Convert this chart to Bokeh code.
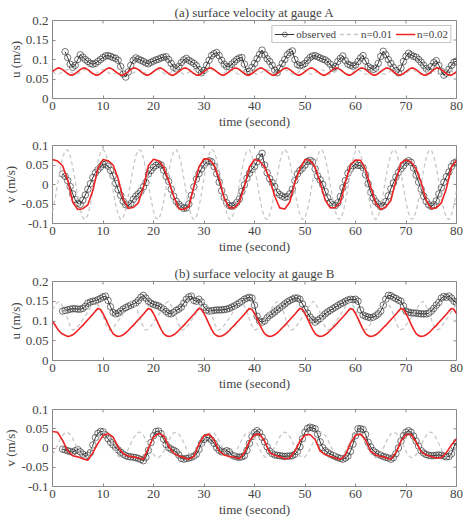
import numpy as np
from bokeh.plotting import figure
from bokeh.layouts import column
from bokeh.models import (Range1d, FixedTicker, Legend, LegendItem,
                          PrintfTickFormatter)
from bokeh.embed import file_html
from bokeh.resources import INLINE

FONT = "Liberation Serif"
TXT = "#444444"
FRAME = "#8a8a8a"
RED = "#ee2222"
GREY = "#c8c8c8"

# ---------------- tick labels / ranges ----------------
X_TICKS = [0, 10, 20, 30, 40, 50, 60, 70, 80]
U_TICKS = [0, 0.05, 0.1, 0.15, 0.2]
V_TICKS = [-0.1, -0.05, 0, 0.05, 0.1]

TITLE_A = "(a) surface velocity at gauge A"
TITLE_B = "(b) surface velocity at gauge B"
XLABEL = "time (second)"
SERIES = ["observed", "n=0.01", "n=0.02"]

# ---------------- data: panel 1, u at gauge A ----------------
A_U_OBS_T0 = 2.5
A_U_OBS = [
    0.120, 0.105, 0.088, 0.080, 0.085, 0.100, 0.112, 0.106, 0.100, 0.095,
    0.090, 0.088, 0.090, 0.095, 0.100, 0.105, 0.109, 0.110, 0.108, 0.105,
    0.103, 0.098, 0.082, 0.063, 0.055, 0.068, 0.085, 0.098, 0.104, 0.101,
    0.098, 0.095, 0.091, 0.089, 0.093, 0.096, 0.099, 0.101, 0.104, 0.106,
    0.107, 0.100, 0.090, 0.080, 0.076, 0.082, 0.092, 0.099, 0.103, 0.098,
    0.094, 0.090, 0.084, 0.074, 0.066, 0.072, 0.085, 0.098, 0.110, 0.115,
    0.118, 0.110, 0.098, 0.088, 0.082, 0.081, 0.088, 0.094, 0.100, 0.104,
    0.105, 0.088, 0.068, 0.070, 0.080, 0.090, 0.102, 0.113, 0.124, 0.112,
    0.102, 0.095, 0.085, 0.073, 0.066, 0.078, 0.090, 0.100, 0.112, 0.118,
    0.122, 0.100, 0.087, 0.084, 0.086, 0.090, 0.098, 0.105, 0.109, 0.110,
    0.107, 0.104, 0.101, 0.099, 0.094, 0.088, 0.078, 0.082, 0.095, 0.103,
    0.109, 0.097, 0.088, 0.085, 0.083, 0.086, 0.095, 0.104, 0.110, 0.096,
    0.082, 0.078, 0.074, 0.078, 0.090, 0.108, 0.121, 0.112, 0.100, 0.090,
    0.080, 0.072, 0.066, 0.078, 0.095, 0.108, 0.116, 0.112, 0.108, 0.106,
    0.100, 0.093, 0.085, 0.077, 0.071, 0.082, 0.092, 0.097, 0.085, 0.070,
    0.060, 0.065, 0.075, 0.085, 0.093, 0.096,
]
A_U_N01_T0 = 0.0
A_U_N01 = [
    0.069, 0.064, 0.062, 0.064, 0.069, 0.073, 0.074, 0.070, 0.065, 0.062,
    0.063, 0.068, 0.073, 0.074, 0.071, 0.066, 0.062, 0.063, 0.067, 0.072,
    0.074, 0.072, 0.067, 0.063, 0.062, 0.066, 0.071, 0.074, 0.073, 0.068,
    0.063, 0.062, 0.065, 0.070, 0.074, 0.073,
    0.069, 0.064, 0.062, 0.064, 0.069, 0.073, 0.074, 0.070, 0.065, 0.062,
    0.063, 0.068, 0.073, 0.074, 0.071, 0.066, 0.062, 0.063, 0.067, 0.072,
    0.074, 0.072, 0.067, 0.063, 0.062, 0.066, 0.071, 0.074, 0.073, 0.068,
    0.063, 0.062, 0.065, 0.070, 0.074, 0.073,
    0.069, 0.064, 0.062, 0.064, 0.069, 0.073, 0.074, 0.070, 0.065, 0.062,
    0.063, 0.068, 0.073, 0.074, 0.071, 0.066, 0.062, 0.063, 0.067, 0.072,
    0.074, 0.072, 0.067, 0.063, 0.062, 0.066, 0.071, 0.074, 0.073, 0.068,
    0.063, 0.062, 0.065, 0.070, 0.074, 0.073,
    0.069, 0.064, 0.062, 0.064, 0.069, 0.073, 0.074, 0.070, 0.065, 0.062,
    0.063, 0.068, 0.073, 0.074, 0.071, 0.066, 0.062, 0.063, 0.067, 0.072,
    0.074, 0.072, 0.067, 0.063, 0.062, 0.066, 0.071, 0.074, 0.073, 0.068,
    0.063, 0.062, 0.065, 0.070, 0.074, 0.073,
    0.069, 0.064, 0.062, 0.064, 0.069, 0.073, 0.074, 0.070, 0.065, 0.062,
    0.063, 0.068, 0.073, 0.074, 0.071, 0.066, 0.062,
]
A_U_N02_T0 = 0.0
A_U_N02 = [
    0.069, 0.074, 0.078, 0.078, 0.074, 0.069, 0.064, 0.060, 0.060, 0.064,
    0.069, 0.074, 0.078, 0.078, 0.074, 0.069, 0.064, 0.060, 0.060, 0.064,
    0.069, 0.074, 0.078, 0.078, 0.074, 0.069, 0.064, 0.060, 0.060, 0.064,
    0.069, 0.074, 0.078, 0.078, 0.074, 0.069, 0.064, 0.060, 0.060, 0.064,
    0.069, 0.074, 0.078, 0.078, 0.074, 0.069, 0.064, 0.060, 0.060, 0.064,
    0.069, 0.074, 0.078, 0.078, 0.074, 0.069, 0.064, 0.060, 0.060, 0.064,
    0.069, 0.074, 0.078, 0.078, 0.074, 0.069, 0.064, 0.060, 0.060, 0.064,
    0.069, 0.074, 0.078, 0.078, 0.074, 0.069, 0.064, 0.060, 0.060, 0.064,
    0.069, 0.074, 0.078, 0.078, 0.074, 0.069, 0.064, 0.060, 0.060, 0.064,
    0.069, 0.074, 0.078, 0.078, 0.074, 0.069, 0.064, 0.060, 0.060, 0.064,
    0.069, 0.074, 0.078, 0.078, 0.074, 0.069, 0.064, 0.060, 0.060, 0.064,
    0.069, 0.074, 0.078, 0.078, 0.074, 0.069, 0.064, 0.060, 0.060, 0.064,
    0.069, 0.074, 0.078, 0.078, 0.074, 0.069, 0.064, 0.060, 0.060, 0.064,
    0.069, 0.074, 0.078, 0.078, 0.074, 0.069, 0.064, 0.060, 0.060, 0.064,
    0.069, 0.074, 0.078, 0.078, 0.074, 0.069, 0.064, 0.060, 0.060, 0.064,
    0.069, 0.074, 0.078, 0.078, 0.074, 0.069, 0.064, 0.060, 0.060, 0.064,
    0.069,
]

# ---------------- data: panel 2, v at gauge A ----------------
A_V_OBS_T0 = 2.0
A_V_OBS = [
    0.027, 0.021, 0.010, -0.005, -0.024, -0.039, -0.048, -0.051, -0.040, -0.027,
    -0.012, 0.002, 0.018, 0.030, 0.038, 0.045, 0.052, 0.052, 0.047, 0.036,
    0.022, 0.003, -0.013, -0.028, -0.043, -0.052, -0.054, -0.049, -0.038, -0.030,
    -0.024, -0.017, -0.006, 0.005, 0.027, 0.036, 0.044, 0.049, 0.053, 0.050,
    0.037, 0.021, 0.008, -0.012, -0.030, -0.043, -0.051, -0.057, -0.061, -0.060,
    -0.050, -0.028, -0.006, 0.014, 0.028, 0.040, 0.050, 0.057, 0.061, 0.058,
    0.046, 0.028, 0.006, -0.016, -0.033, -0.047, -0.054, -0.056, -0.053, -0.046,
    -0.037, -0.018, -0.001, 0.016, 0.029, 0.039, 0.046, 0.058, 0.070, 0.080,
    0.050, 0.030, 0.015, 0.005, -0.005, -0.020, -0.026, -0.030, -0.033, -0.031,
    -0.024, -0.012, 0.010, 0.027, 0.036, 0.042, 0.050, 0.059, 0.062, 0.058,
    0.040, 0.022, 0.012, 0.000, -0.018, -0.034, -0.046, -0.052, -0.054, -0.047,
    -0.031, -0.008, 0.010, 0.029, 0.040, 0.048, 0.052, 0.049, 0.049, 0.043,
    0.025, 0.002, -0.020, -0.034, -0.044, -0.050, -0.057, -0.054, -0.044, -0.029,
    -0.011, 0.004, 0.019, 0.031, 0.040, 0.048, 0.057, 0.061, 0.057, 0.042,
    0.024, 0.006, -0.012, -0.030, -0.043, -0.052, -0.056, -0.052, -0.042, -0.024,
    -0.008, 0.006, 0.020, 0.032, 0.046, 0.055, 0.058,
]
A_V_N01_T0 = 0.0
A_V_N01 = [
    -0.069, -0.038, 0.000, 0.038, 0.069, 0.087, 0.089, 0.074, 0.045, 0.008,
    -0.031, -0.064, -0.085, -0.090, -0.078, -0.052, -0.016, 0.023, 0.058, 0.082,
    0.090, 0.082, 0.058, 0.023, -0.016, -0.052, -0.078, -0.090, -0.085, -0.064,
    -0.031, 0.008, 0.045, 0.074, 0.089, 0.087, 0.069, 0.038, 0.000, -0.038,
    -0.069, -0.087, -0.089, -0.074, -0.045, -0.008, 0.031, 0.064, 0.085, 0.090,
    0.078, 0.052, 0.016, -0.023, -0.058, -0.082, -0.090, -0.082, -0.058, -0.023,
    0.016, 0.052, 0.078, 0.090, 0.085, 0.064, 0.031, -0.008, -0.045, -0.074,
    -0.089, -0.087,
    -0.069, -0.038, 0.000, 0.038, 0.069, 0.087, 0.089, 0.074, 0.045, 0.008,
    -0.031, -0.064, -0.085, -0.090, -0.078, -0.052, -0.016, 0.023, 0.058, 0.082,
    0.090, 0.082, 0.058, 0.023, -0.016, -0.052, -0.078, -0.090, -0.085, -0.064,
    -0.031, 0.008, 0.045, 0.074, 0.089, 0.087, 0.069, 0.038, 0.000, -0.038,
    -0.069, -0.087, -0.089, -0.074, -0.045, -0.008, 0.031, 0.064, 0.085, 0.090,
    0.078, 0.052, 0.016, -0.023, -0.058, -0.082, -0.090, -0.082, -0.058, -0.023,
    0.016, 0.052, 0.078, 0.090, 0.085, 0.064, 0.031, -0.008, -0.045, -0.074,
    -0.089, -0.087,
    -0.069, -0.038, 0.000, 0.038, 0.069, 0.087, 0.089, 0.074, 0.045, 0.008,
    -0.031, -0.064, -0.085, -0.090, -0.078, -0.052, -0.016,
]
A_V_N02_T0 = 0.0
A_V_N02 = [
    0.064, 0.060, 0.048, 0.012, -0.045, -0.064, -0.062, -0.052, -0.015, 0.042,
    0.064, 0.061, 0.050, 0.015, -0.037, -0.061, -0.059, -0.047, -0.007, 0.049,
    0.065, 0.061, 0.045, 0.010, -0.030, -0.062, -0.064, -0.057, -0.005, 0.045,
    0.066, 0.065, 0.050, 0.015, -0.035, -0.060, -0.060, -0.046, -0.005, 0.045,
    0.064, 0.060, 0.045, 0.015, -0.030, -0.060, -0.063, -0.045, 0.005, 0.040,
    0.064, 0.062, 0.044, 0.005, -0.040, -0.060, -0.059, -0.046, 0.005, 0.050,
    0.063, 0.062, 0.038, -0.005, -0.048, -0.064, -0.058, -0.041, 0.010, 0.055,
    0.063, 0.058, 0.040, 0.005, -0.040, -0.062, -0.060, -0.047, -0.010, 0.045,
    0.062,
]

# ---------------- data: panel 3, u at gauge B ----------------
B_U_OBS_T0 = 2.0
B_U_OBS = [
    0.125, 0.127, 0.128, 0.130, 0.131, 0.131, 0.130, 0.130, 0.132, 0.137,
    0.145, 0.148, 0.150, 0.151, 0.154, 0.157, 0.161, 0.163, 0.152, 0.136,
    0.122, 0.118, 0.120, 0.125, 0.130, 0.134, 0.137, 0.140, 0.143, 0.146,
    0.152, 0.160, 0.165, 0.158, 0.150, 0.145, 0.142, 0.140, 0.138, 0.134,
    0.130, 0.124, 0.119, 0.118, 0.122, 0.127, 0.130, 0.135, 0.145, 0.155,
    0.161, 0.163, 0.152, 0.150, 0.155, 0.148, 0.135, 0.128, 0.125, 0.126,
    0.127, 0.128, 0.128, 0.128, 0.129, 0.130, 0.132, 0.135, 0.138, 0.142,
    0.146, 0.150, 0.155, 0.158, 0.160, 0.158, 0.140, 0.112, 0.100, 0.097,
    0.100, 0.108, 0.114, 0.118, 0.123, 0.128, 0.133, 0.138, 0.143, 0.148,
    0.152, 0.155, 0.158, 0.158, 0.155, 0.143, 0.130, 0.120, 0.110, 0.103,
    0.097, 0.102, 0.106, 0.112, 0.118, 0.123, 0.127, 0.131, 0.135, 0.139,
    0.143, 0.146, 0.150, 0.153, 0.155, 0.154, 0.155, 0.150, 0.128, 0.115,
    0.112, 0.110, 0.108, 0.110, 0.113, 0.118, 0.125, 0.140, 0.155, 0.165,
    0.164, 0.160, 0.157, 0.153, 0.150, 0.138, 0.125, 0.122, 0.121, 0.120,
    0.120, 0.119, 0.118, 0.118, 0.118, 0.120, 0.125, 0.132, 0.140, 0.147,
    0.158, 0.162, 0.160, 0.163, 0.158, 0.150, 0.146,
]
B_U_N01_T = [
    0.0, 0.8,
    1.4, 2.4, 3.4, 4.0, 4.7, 6.6, 8.0,
    8.6, 9.6, 10.6, 11.2, 11.9, 13.8, 15.2,
    15.8, 16.8, 17.8, 18.4, 19.1, 21.0, 22.4,
    23.0, 24.0, 25.0, 25.6, 26.3, 28.2, 29.6,
    30.2, 31.2, 32.2, 32.8, 33.5, 35.4, 36.8,
    37.4, 38.4, 39.4, 40.0, 40.7, 42.6, 44.0,
    44.6, 45.6, 46.6, 47.2, 47.9, 49.8, 51.2,
    51.8, 52.8, 53.8, 54.4, 55.1, 57.0, 58.4,
    59.0, 60.0, 61.0, 61.6, 62.3, 64.2, 65.6,
    66.2, 67.2, 68.2, 68.8, 69.5, 71.4, 72.8,
    73.4, 74.4, 75.4, 76.0, 76.7, 78.6, 80.0,
]
B_U_N01 = [
    0.128, 0.145,
    0.150, 0.128, 0.090, 0.077, 0.080, 0.115, 0.145,
    0.150, 0.128, 0.090, 0.077, 0.080, 0.115, 0.145,
    0.150, 0.128, 0.090, 0.077, 0.080, 0.115, 0.145,
    0.150, 0.128, 0.090, 0.077, 0.080, 0.115, 0.145,
    0.150, 0.128, 0.090, 0.077, 0.080, 0.115, 0.145,
    0.150, 0.128, 0.090, 0.077, 0.080, 0.115, 0.145,
    0.150, 0.128, 0.090, 0.077, 0.080, 0.115, 0.145,
    0.150, 0.128, 0.090, 0.077, 0.080, 0.115, 0.145,
    0.150, 0.128, 0.090, 0.077, 0.080, 0.115, 0.145,
    0.150, 0.128, 0.090, 0.077, 0.080, 0.115, 0.145,
    0.150, 0.128, 0.090, 0.077, 0.080, 0.115, 0.145,
]
B_U_N02_T0 = 0.0
B_U_N02 = [
    0.100, 0.090, 0.080, 0.072, 0.067, 0.064,
    0.061, 0.062, 0.065, 0.070, 0.076, 0.083, 0.089, 0.096, 0.103, 0.110,
    0.117, 0.125, 0.132, 0.129, 0.119, 0.106, 0.092, 0.079, 0.068, 0.063,
    0.061, 0.062, 0.065, 0.070, 0.076, 0.083, 0.089, 0.096, 0.103, 0.110,
    0.117, 0.125, 0.132, 0.129, 0.119, 0.106, 0.092, 0.079, 0.068, 0.063,
    0.061, 0.062, 0.065, 0.070, 0.076, 0.083, 0.089, 0.096, 0.103, 0.110,
    0.117, 0.125, 0.132, 0.129, 0.119, 0.106, 0.092, 0.079, 0.068, 0.063,
    0.061, 0.062, 0.065, 0.070, 0.076, 0.083, 0.089, 0.096, 0.103, 0.110,
    0.117, 0.125, 0.132, 0.129, 0.119, 0.106, 0.092, 0.079, 0.068, 0.063,
    0.061, 0.062, 0.065, 0.070, 0.076, 0.083, 0.089, 0.096, 0.103, 0.110,
    0.117, 0.125, 0.132, 0.129, 0.119, 0.106, 0.092, 0.079, 0.068, 0.063,
    0.061, 0.062, 0.065, 0.070, 0.076, 0.083, 0.089, 0.096, 0.103, 0.110,
    0.117, 0.125, 0.132, 0.129, 0.119, 0.106, 0.092, 0.079, 0.068, 0.063,
    0.061, 0.062, 0.065, 0.070, 0.076, 0.083, 0.089, 0.096, 0.103, 0.110,
    0.117, 0.125, 0.132, 0.129, 0.119, 0.106, 0.092, 0.079, 0.068, 0.063,
    0.061, 0.062, 0.065, 0.070, 0.076, 0.083, 0.089, 0.096, 0.103, 0.110,
    0.117, 0.125, 0.132, 0.129, 0.119,
]

# ---------------- data: panel 4, v at gauge B ----------------
B_V_OBS_T0 = 2.0
B_V_OBS = [
    -0.003, -0.005, -0.007, -0.009, -0.011, -0.007, -0.004, -0.010, -0.016, -0.022,
    -0.019, -0.012, 0.008, 0.027, 0.038, 0.043, 0.042, 0.034, 0.024, 0.015,
    0.008, 0.002, -0.005, -0.011, -0.016, -0.020, -0.022, -0.023, -0.024, -0.025,
    -0.027, -0.030, -0.033, -0.024, -0.006, 0.014, 0.032, 0.043, 0.044, 0.037,
    0.023, 0.009, 0.001, -0.003, -0.006, -0.010, -0.018, -0.027, -0.029, -0.027,
    -0.026, -0.024, -0.021, -0.016, -0.004, 0.012, 0.022, 0.028, 0.026, 0.020,
    0.012, 0.001, -0.006, -0.010, -0.010, -0.007, -0.010, -0.018, -0.021, -0.023,
    -0.024, -0.023, -0.020, -0.006, 0.012, 0.030, 0.040, 0.045, 0.040, 0.028,
    0.016, 0.003, -0.008, -0.014, -0.018, -0.019, -0.020, -0.021, -0.022, -0.021,
    -0.021, -0.020, -0.016, -0.009, 0.003, 0.024, 0.041, 0.051, 0.054, 0.052,
    0.050, 0.036, 0.016, 0.001, -0.007, -0.012, -0.016, -0.019, -0.022, -0.025,
    -0.027, -0.029, -0.026, -0.021, -0.009, 0.010, 0.032, 0.050, 0.050, 0.048,
    0.035, 0.015, 0.003, -0.007, -0.012, -0.016, -0.019, -0.022, -0.024, -0.026,
    -0.029, -0.025, -0.015, 0.000, 0.018, 0.032, 0.041, 0.045, 0.041, 0.031,
    0.018, 0.005, -0.007, -0.013, -0.017, -0.019, -0.020, -0.020, -0.019, -0.018,
    -0.019, -0.021, -0.023, -0.022, -0.015, 0.004, 0.015,
]
B_V_N01_T0 = 0.0
B_V_N01 = [
    -0.017, -0.006, 0.008, 0.022, 0.033, 0.040, 0.041, 0.035, 0.025, 0.011,
    -0.003, -0.015, -0.023, -0.025, -0.021, -0.011, 0.002, 0.017, 0.029, 0.038,
    0.041, 0.038, 0.029, 0.017, 0.002, -0.011, -0.021, -0.025, -0.023, -0.015,
    -0.003, 0.011, 0.025, 0.035, 0.041, 0.040, 0.033, 0.022, 0.008, -0.006,
    -0.017, -0.024, -0.025, -0.019, -0.009, 0.005, 0.019, 0.031, 0.039, 0.041,
    0.037, 0.027, 0.014, -0.001, -0.013, -0.022, -0.025, -0.022, -0.013, -0.001,
    0.014, 0.027, 0.037, 0.041, 0.039, 0.031, 0.019, 0.005, -0.009, -0.019,
    -0.025, -0.024,
    -0.017, -0.006, 0.008, 0.022, 0.033, 0.040, 0.041, 0.035, 0.025, 0.011,
    -0.003, -0.015, -0.023, -0.025, -0.021, -0.011, 0.002, 0.017, 0.029, 0.038,
    0.041, 0.038, 0.029, 0.017, 0.002, -0.011, -0.021, -0.025, -0.023, -0.015,
    -0.003, 0.011, 0.025, 0.035, 0.041, 0.040, 0.033, 0.022, 0.008, -0.006,
    -0.017, -0.024, -0.025, -0.019, -0.009, 0.005, 0.019, 0.031, 0.039, 0.041,
    0.037, 0.027, 0.014, -0.001, -0.013, -0.022, -0.025, -0.022, -0.013, -0.001,
    0.014, 0.027, 0.037, 0.041, 0.039, 0.031, 0.019, 0.005, -0.009, -0.019,
    -0.025, -0.024,
    -0.017, -0.006, 0.008, 0.022, 0.033, 0.040, 0.041, 0.035, 0.025, 0.011,
    -0.003, -0.015, -0.023, -0.025, -0.021, -0.011, 0.002,
]
B_V_N02_T0 = 0.0
B_V_N02 = [
    0.043, 0.041, 0.020, -0.007, -0.020, -0.023, -0.028, -0.032, -0.012, 0.012,
    0.032, 0.038, 0.028, 0.002, -0.015, -0.021, -0.023, -0.026, -0.029, 0.000,
    0.028, 0.038, 0.032, 0.005, -0.014, -0.021, -0.025, -0.029, -0.022, 0.010,
    0.032, 0.036, 0.021, -0.008, -0.018, -0.022, -0.024, -0.028, -0.012, 0.018,
    0.034, 0.036, 0.018, -0.012, -0.019, -0.023, -0.028, -0.026, -0.008, 0.018,
    0.034, 0.035, 0.022, -0.008, -0.017, -0.022, -0.026, -0.030, -0.018, 0.012,
    0.033, 0.036, 0.021, -0.009, -0.018, -0.022, -0.025, -0.029, -0.012, 0.018,
    0.035, 0.035, 0.015, -0.010, -0.018, -0.022, -0.026, -0.025, -0.012, 0.008,
    0.023,
]


def grid(t0, step, vals):
    return t0 + step * np.arange(len(vals))


def style_axis(ax, standoff):
    ax.axis_line_color = None
    ax.major_tick_in = 3
    ax.major_tick_out = 0
    ax.major_tick_line_color = FRAME
    ax.minor_tick_line_color = None
    ax.major_label_text_font = FONT
    ax.major_label_text_font_size = "13px"
    ax.major_label_text_color = TXT
    ax.major_label_standoff = standoff
    ax.formatter = PrintfTickFormatter(format="%g")
    ax.axis_label_text_font = FONT
    ax.axis_label_text_font_size = "13px"
    ax.axis_label_text_font_style = "normal"
    ax.axis_label_text_color = TXT


def make_panel(height, top, bottom, yticks, ylabel, title=None, legend=False,
               obs=None, n01=None, n02=None):
    ylo, yhi = yticks[0], yticks[-1]
    p = figure(width=472, height=height, x_range=Range1d(0, 80),
               y_range=Range1d(ylo, yhi), output_backend="svg",
               toolbar_location=None, min_border_left=48, min_border_right=16,
               min_border_top=top, min_border_bottom=bottom,
               title=title)
    p.background_fill_color = "white"
    p.border_fill_color = "white"
    p.outline_line_color = FRAME
    p.outline_line_width = 1
    p.xgrid.visible = False
    p.ygrid.visible = False
    if title:
        p.title.text_font = FONT
        p.title.text_font_size = "13px"
        p.title.text_font_style = "normal"
        p.title.text_color = TXT
        p.title.align = "center"
        p.title.standoff = 2
        p.title.offset = 0

    xa, ya = p.xaxis[0], p.yaxis[0]
    style_axis(xa, 3)
    style_axis(ya, 4)
    xa.ticker = FixedTicker(ticks=X_TICKS)
    ya.ticker = FixedTicker(ticks=yticks)
    xa.axis_label = XLABEL
    xa.axis_label_standoff = 1
    ya.axis_label = ylabel
    ya.axis_label_standoff = 0

    # ticks on top and right frame edges (inward), from the tick lists
    dy = (yhi - ylo) * 3.0 / 78.0
    dx = 80 * 3.0 / 408.0
    p.segment(x0=X_TICKS, y0=[yhi] * len(X_TICKS), x1=X_TICKS,
              y1=[yhi - dy] * len(X_TICKS), line_color=FRAME, line_width=1)
    p.segment(x0=[80] * len(yticks), y0=yticks, x1=[80 - dx] * len(yticks),
              y1=yticks, line_color=FRAME, line_width=1)

    ot, ov = obs
    r_ol = p.line(ot, ov, line_color="black", line_width=0.8)
    r_os = p.scatter(ot, ov, marker="circle", size=6.5, fill_color=None,
                     line_color="#333333", line_alpha=0.75, line_width=0.9)
    gt, gv = n01
    r_g = p.line(gt, gv, line_color=GREY, line_width=1.3, line_dash="4 3")
    rt, rv = n02
    r_r = p.line(rt, rv, line_color=RED, line_width=1.6)

    if legend:
        lg = Legend(items=[LegendItem(label=SERIES[0], renderers=[r_ol, r_os]),
                           LegendItem(label=SERIES[1], renderers=[r_g]),
                           LegendItem(label=SERIES[2], renderers=[r_r])],
                    location="top_right", orientation="horizontal",
                    label_text_font=FONT, label_text_font_size="11px",
                    label_text_color=TXT, glyph_width=20, glyph_height=12,
                    label_height=12, label_standoff=2, spacing=3, padding=2,
                    margin=5, border_line_color=FRAME, border_line_width=1,
                    background_fill_color="white", background_fill_alpha=1)
        p.add_layout(lg)
    return p


p1 = make_panel(133, 20, 35, U_TICKS, "u (m/s)", TITLE_A, True,
                (grid(A_U_OBS_T0, 0.5, A_U_OBS), A_U_OBS),
                (grid(A_U_N01_T0, 0.5, A_U_N01), A_U_N01),
                (grid(A_U_N02_T0, 0.5, A_U_N02), A_U_N02))
p2 = make_panel(128, 12, 38, V_TICKS, "v (m/s)", None, False,
                (grid(A_V_OBS_T0, 0.5, A_V_OBS), A_V_OBS),
                (grid(A_V_N01_T0, 0.5, A_V_N01), A_V_N01),
                (grid(A_V_N02_T0, 1.0, A_V_N02), A_V_N02))
p3 = make_panel(135, 20, 36, U_TICKS, "u (m/s)", TITLE_B, False,
                (grid(B_U_OBS_T0, 0.5, B_U_OBS), B_U_OBS),
                (B_U_N01_T, B_U_N01),
                (grid(B_U_N02_T0, 0.5, B_U_N02), B_U_N02))
p4 = make_panel(131, 13, 41, V_TICKS, "v (m/s)", None, False,
                (grid(B_V_OBS_T0, 0.5, B_V_OBS), B_V_OBS),
                (grid(B_V_N01_T0, 0.5, B_V_N01), B_V_N01),
                (grid(B_V_N02_T0, 1.0, B_V_N02), B_V_N02))

layout = column(p1, p2, p3, p4, spacing=0)
open("out.html", "w").write(file_html(layout, INLINE))
